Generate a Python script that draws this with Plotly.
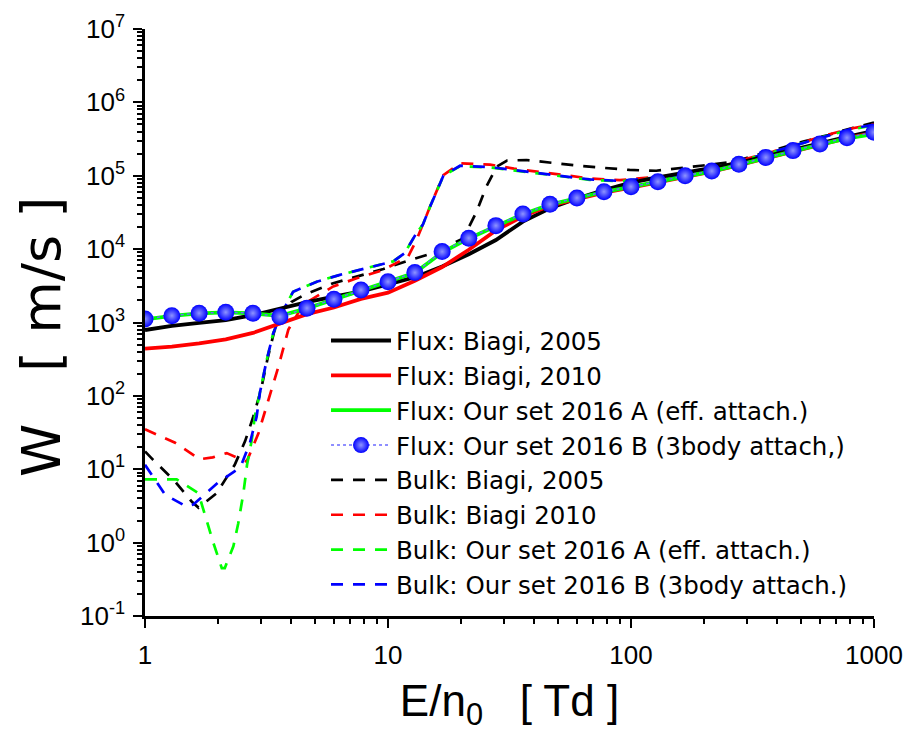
import plotly.graph_objects as go

# ---- data ----
x_flux = [1, 1.29, 1.67, 2.15, 2.78, 3.59, 4.64, 5.99, 7.74, 10, 12.9, 16.7, 21.5, 27.8,
          35.9, 46.4, 59.9, 77.4, 100, 129, 167, 215, 278, 359, 464, 599, 774, 1000]

flux_biagi2005 = [790, 900, 990, 1080, 1260, 1550, 1900, 2250, 2650, 3300, 4150, 5800, 8500, 13300,
                  23700, 36000, 49000, 64000, 80500, 95000, 112000, 128000, 150000, 185000, 228000,
                  282000, 340000, 410000]
flux_biagi2010 = [440, 470, 520, 590, 720, 980, 1300, 1600, 2100, 2550, 3700, 5700, 9800, 18000,
                  28000, 39000, 48500, 59000, 69000, 81000, 97000, 114000, 140000, 174000, 215000,
                  265000, 325000, 385000]
flux_setA = [1100, 1230, 1330, 1370, 1330, 1230, 1560, 2060, 2750, 3550, 4750, 9000, 14000, 20500,
             29800, 40500, 49500, 60500, 70500, 82500, 99000, 115000, 141000, 175000, 216000,
             265000, 322000, 370000]
flux_setB = [1120, 1240, 1340, 1380, 1340, 1200, 1570, 2080, 2780, 3600, 4790, 9250, 14100, 20900,
             30200, 40900, 49900, 60700, 71000, 83100, 100000, 116000, 143000, 178000, 220000,
             270000, 330000, 392000]

x_bulk2005 = [1.0, 1.08, 1.31, 1.56, 1.66, 1.97, 2.03, 2.27, 2.34, 2.58, 2.79, 3.0, 3.2, 3.4, 3.6,
              4.0, 4.6, 5.95, 7.54, 9.57, 12.3, 15.3, 20.4, 23.1, 25.4, 28, 30.9, 37.1, 61.6, 98.6,
              127, 157, 198, 264, 329, 392, 512, 649, 822, 1000]
bulk_biagi2005 = [17.5, 13.4, 7.2, 3.6, 3.0, 4.7, 5.5, 9.8, 11.5, 24, 52, 120, 330, 750, 1200,
                  1900, 2450, 3430, 4230, 5350, 7100, 8800, 14000, 32000, 71000, 133000, 161000,
                  164000, 136000, 120000, 117000, 126000, 138000, 155000, 191000, 230000, 292000,
                  360000, 452000, 530000]

x_bulk2010 = [1.0, 1.33, 1.68, 1.9, 2.17, 2.4, 2.62, 2.93, 3.22, 3.54, 3.89, 4.34, 4.69, 5.95,
              7.43, 9.57, 12.1, 13.1, 14.9, 16.9, 19.8, 26.3, 33, 42, 67.6, 90, 140, 180, 236, 304,
              385, 496, 639, 817, 1000]
bulk_biagi2010 = [35, 23, 13.7, 14.5, 16.6, 14.5, 12.7, 31, 88, 250, 800, 1480, 1930, 3100, 4000,
                  5200, 7900, 13300, 38000, 102000, 148000, 142000, 125000, 112000, 92000, 87000,
                  98000, 107000, 133000, 173000, 214000, 275000, 360000, 444000, 500000]

x_bulkA = [1.0, 1.35, 1.66, 1.79, 1.91, 2.07, 2.13, 2.31, 2.42, 2.54, 2.63, 2.75, 2.83, 2.97, 3.17,
           3.37, 3.59, 4.07, 5.09, 6.34, 8.17, 10.5, 11.7, 13.1, 13.9, 14.9, 16.9, 19.8, 26.3, 42,
           67.6, 90, 140, 180, 236, 304, 385, 496, 639, 817, 1000]
bulk_setA = [7.3, 7.3, 4.7, 2.0, 1.0, 0.45, 0.45, 0.89, 1.84, 4.7, 11.5, 25, 52, 110, 310, 710,
             1200, 2630, 3600, 4460, 5500, 6800, 8800, 16600, 21400, 38000, 100000, 135000, 130000,
             108000, 88000, 84000, 95000, 104000, 130000, 170000, 210000, 270000, 350000, 430000,
             490000]

x_bulkB = [1.0, 1.21, 1.48, 1.58, 1.88, 2.0, 2.38, 2.5, 2.7, 2.88, 2.97, 3.17, 3.37, 3.59, 4.07,
           5.09, 6.34, 8.17, 10.5, 11.7, 13.1, 13.9, 14.9, 16.9, 19.8, 26.3, 42, 67.6, 90, 140,
           180, 236, 304, 385, 496, 639, 817, 1000]
bulk_setB = [11.5, 4.5, 3.1, 3.3, 5.5, 6.6, 9.8, 11.8, 22.6, 52, 110, 310, 710, 1200, 2630, 3600,
             4460, 5500, 6800, 8800, 16600, 21400, 38000, 100000, 137000, 131000, 109000, 89000,
             85000, 96000, 105000, 131000, 171000, 212000, 272000, 352000, 440000, 495000]

names = ["Flux: Biagi, 2005", "Flux: Biagi, 2010", "Flux: Our set 2016 A (eff. attach.)",
         "Flux: Our set 2016 B (3body attach,)", "Bulk: Biagi, 2005", "Bulk: Biagi 2010",
         "Bulk: Our set 2016 A (eff. attach.)", "Bulk: Our set 2016 B (3body attach.)"]

x_tickvals = [1, 10, 100, 1000]
x_ticktext = ["1", "10", "100", "1000"]
y_tickvals = [0.1, 1, 10, 100, 1e3, 1e4, 1e5, 1e6, 1e7]
y_ticktext = ["10<sup>-1</sup>", "10<sup>0</sup>", "10<sup>1</sup>", "10<sup>2</sup>",
              "10<sup>3</sup>", "10<sup>4</sup>", "10<sup>5</sup>", "10<sup>6</sup>",
              "10<sup>7</sup>"]
x_title = "E/n<sub>0</sub>   [ Td ]"
y_title = "W   [ m/s ]"

BLACK, RED, GREEN, BLUE = "#000000", "#ff0000", "#00ff00", "#0000ff"
DASH = "12px,10px"
ARIAL = "Arial, Liberation Sans, sans-serif"
WIDE = "DejaVu Sans, Verdana, sans-serif"

fig = go.Figure()

def add_line(x, y, name, color, width, dash, rank, group):
    fig.add_trace(go.Scatter(x=x, y=y, name=name, mode="lines", legendrank=rank,
                             legendgroup=group,
                             line=dict(color=color, width=width, dash=dash)))

add_line(x_bulk2005, bulk_biagi2005, names[4], BLACK, 2.7, DASH, 5, "g5")
add_line(x_bulk2010, bulk_biagi2010, names[5], RED, 2.7, DASH, 6, "g6")
add_line(x_bulkA, bulk_setA, names[6], GREEN, 2.7, DASH, 7, "g7")
add_line(x_bulkB, bulk_setB, names[7], BLUE, 2.7, DASH, 8, "g8")
add_line(x_flux, flux_biagi2005, names[0], BLACK, 3.8, "solid", 1, "g1")
add_line(x_flux, flux_biagi2010, names[1], RED, 3.8, "solid", 2, "g2")
add_line(x_flux, flux_setA, names[2], GREEN, 3.8, "solid", 3, "g3")
fig.add_trace(go.Scatter(
    x=x_flux, y=flux_setB, name=names[3], mode="lines+markers", legendrank=4, legendgroup="g4",
    line=dict(color="#6a6aff", width=1.5, dash="dot"),
    marker=dict(size=17, color=BLUE, line=dict(width=0),
                gradient=dict(type="radial", color="#8e94ff"))))

axis_font = dict(family=ARIAL, color="black")

# the page body adds an 8px offset, so the figure frame is shifted by -8px
fig.update_layout(
    width=922, height=742,
    margin=dict(l=137, r=56, t=21, b=134),
    paper_bgcolor="white", plot_bgcolor="white",
    font=dict(family=ARIAL, color="black"),
    showlegend=True,
    legend=dict(x=0.2483, y=0.5075, xanchor="left", yanchor="top", itemwidth=60,
                font=dict(size=24.5, family=WIDE, color="black"),
                bgcolor="rgba(0,0,0,0)", tracegroupgap=0, traceorder="normal"),
    xaxis=dict(type="log", range=[0, 3], showgrid=False, zeroline=False, automargin=False,
               showline=True, linecolor="black", linewidth=2.5, mirror=False,
               ticks="outside", ticklen=9, tickwidth=2, tickcolor="black",
               tickvals=x_tickvals, ticktext=x_ticktext, ticklabelstandoff=5,
               tickfont=dict(size=26, **axis_font),
               minor=dict(ticks="outside", ticklen=5, tickwidth=1.5, tickcolor="black",
                          dtick="D1", showgrid=False),
               title=dict(text=x_title, font=dict(size=44, **axis_font), standoff=17)),
    yaxis=dict(type="log", range=[-1, 7], showgrid=False, zeroline=False, automargin=False,
               showline=True, linecolor="black", linewidth=2.5, mirror=False,
               ticks="outside", ticklen=9, tickwidth=2, tickcolor="black",
               tickvals=y_tickvals, ticktext=y_ticktext, ticklabelstandoff=3,
               tickfont=dict(size=26, **axis_font),
               minor=dict(ticks="outside", ticklen=5, tickwidth=1.5, tickcolor="black",
                          dtick="D1", showgrid=False)),
    annotations=[dict(text=y_title, textangle=-90, xref="paper", yref="paper",
                      x=-0.1413, y=0.4753, xanchor="center", yanchor="middle",
                      showarrow=False, font=dict(size=54, family=WIDE, color="black"))],
)

fig.write_html("out.html")
